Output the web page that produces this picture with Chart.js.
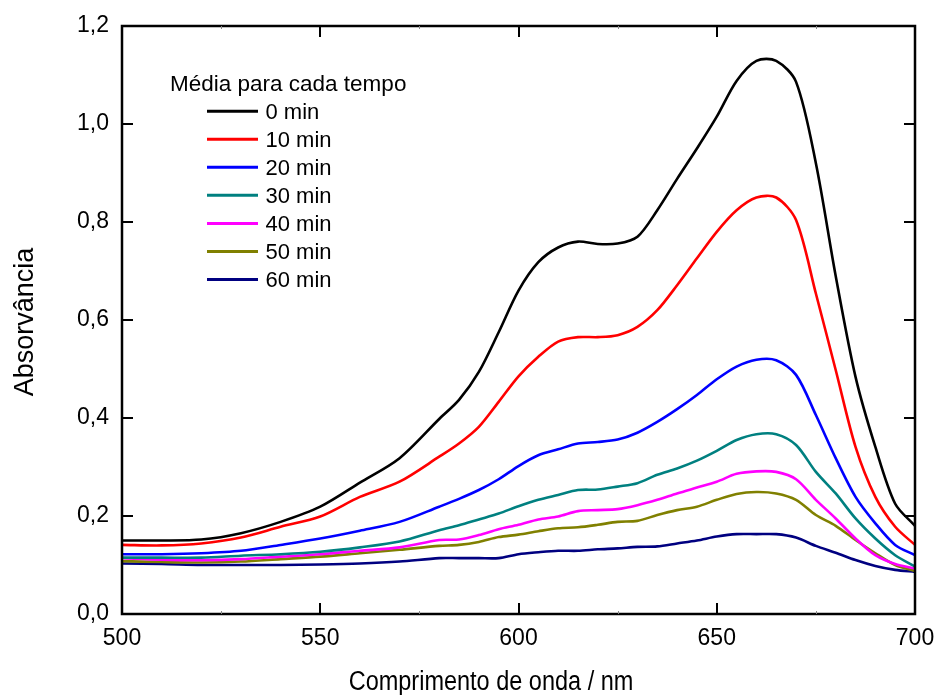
<!DOCTYPE html>
<html>
<head>
  <meta charset="utf-8">
  <title>Absorvância x comprimento de onda</title>
  <script src="https://cdn.jsdelivr.net/npm/chart.js@4.4.0/dist/chart.umd.min.js"></script>
  <style>
  body { margin:0; background:#fff; }
  #chart { display:block; }
  </style>
</head>
<body>
<canvas id="chart" width="938" height="695"></canvas>
<script>

// comprimento de onda (nm)
var wavelengths = [500,510,520,530,540,550,560,570,580,585,590,595,600,605,610,615,620,625,630,635,640,645,650,655,660,665,670,675,680,685,690,695,700];

var abs0  = [0.150,0.150,0.152,0.165,0.188,0.219,0.268,0.318,0.398,0.437,0.494,0.575,0.660,0.718,0.748,0.760,0.755,0.756,0.770,0.824,0.888,0.950,1.015,1.088,1.129,1.129,1.086,0.920,0.690,0.484,0.341,0.225,0.180];
var abs10 = [0.141,0.140,0.144,0.156,0.178,0.199,0.239,0.270,0.321,0.348,0.382,0.433,0.485,0.525,0.556,0.565,0.565,0.569,0.586,0.620,0.671,0.726,0.780,0.824,0.850,0.850,0.804,0.654,0.498,0.341,0.239,0.178,0.141];
var abs20 = [0.122,0.122,0.124,0.129,0.141,0.154,0.170,0.188,0.219,0.235,0.253,0.275,0.302,0.324,0.336,0.348,0.351,0.356,0.370,0.392,0.418,0.447,0.479,0.505,0.519,0.518,0.488,0.406,0.318,0.239,0.185,0.141,0.120];
var abs30 = [0.115,0.115,0.115,0.119,0.122,0.127,0.136,0.148,0.171,0.181,0.193,0.205,0.220,0.233,0.243,0.253,0.254,0.260,0.267,0.284,0.297,0.313,0.333,0.355,0.367,0.367,0.345,0.290,0.246,0.195,0.154,0.120,0.097];
var abs40 = [0.114,0.111,0.110,0.112,0.117,0.122,0.129,0.136,0.151,0.152,0.161,0.173,0.182,0.193,0.199,0.210,0.212,0.214,0.222,0.233,0.246,0.258,0.270,0.286,0.291,0.290,0.275,0.233,0.195,0.154,0.120,0.102,0.093];
var abs50 = [0.108,0.106,0.105,0.107,0.112,0.117,0.124,0.131,0.139,0.141,0.147,0.157,0.162,0.169,0.175,0.177,0.182,0.188,0.190,0.202,0.212,0.219,0.233,0.245,0.249,0.246,0.233,0.202,0.180,0.151,0.124,0.100,0.088];
var abs60 = [0.103,0.102,0.100,0.100,0.100,0.101,0.103,0.107,0.114,0.114,0.114,0.114,0.122,0.126,0.129,0.129,0.132,0.134,0.137,0.138,0.144,0.150,0.158,0.163,0.163,0.163,0.156,0.139,0.125,0.110,0.098,0.090,0.086];

var labels = ["0 min","10 min","20 min","30 min","40 min","50 min","60 min"];
var colors = ["#000000","#ff0000","#0000ff","#008080","#ff00ff","#808000","#000080"];
var series = [abs0,abs10,abs20,abs30,abs40,abs50,abs60];

var FONT = "'Liberation Sans', Arial, sans-serif";

function pts(arr){
  var out=[];
  for(var i=0;i<arr.length;i++){ out.push({x:wavelengths[i], y:arr[i]}); }
  return out;
}

var datasets=[];
for(var s=0;s<series.length;s++){
  datasets.push({
    label: labels[s],
    data: pts(series[s]),
    borderColor: colors[s],
    borderWidth: 2.6,
    pointRadius: 0,
    fill: false,
    tension: 0.3
  });
}

// moldura, ticks para dentro, titulos e legenda
var framePlugin = {
  id: 'frame',
  afterDraw: function(chart){
    var c = chart.ctx, a = chart.chartArea;
    var xs = chart.scales.x, ys = chart.scales.y;
    c.save();
    c.strokeStyle = '#000';
    c.lineWidth = 2.5;
    c.strokeRect(a.left, a.top, a.right-a.left, a.bottom-a.top);
    c.lineWidth = 2;
    c.beginPath();
    for(var v=500; v<=700; v+=50){
      var px = Math.round(xs.getPixelForValue(v));
      c.moveTo(px, a.bottom); c.lineTo(px, a.bottom-11);
      c.moveTo(px, a.top); c.lineTo(px, a.top+11);
    }
    for(var k=0; k<=12; k+=2){
      var py = Math.round(ys.getPixelForValue(k/10));
      c.moveTo(a.left, py); c.lineTo(a.left+11, py);
      c.moveTo(a.right, py); c.lineTo(a.right-11, py);
    }
    c.stroke();
    // ticks menores, quase invisiveis
    c.strokeStyle = '#888';
    c.lineWidth = 1;
    c.beginPath();
    for(var m=525; m<700; m+=50){
      var mx = Math.round(xs.getPixelForValue(m)) + 0.5;
      c.moveTo(mx, a.bottom); c.lineTo(mx, a.bottom-3);
      c.moveTo(mx, a.top); c.lineTo(mx, a.top+3);
    }
    c.stroke();

    // titulos dos eixos
    c.fillStyle = '#000';
    c.textAlign = 'center';
    c.textBaseline = 'alphabetic';
    c.save();
    c.translate(491, 690);
    c.scale(0.87, 1);
    c.font = '27px ' + FONT;
    c.fillText('Comprimento de onda / nm', 0, 0);
    c.restore();
    c.save();
    c.translate(33, 322);
    c.rotate(-Math.PI/2);
    c.font = '27px ' + FONT;
    c.fillText('Absorvância', 0, 0);
    c.restore();

    // legenda
    c.textAlign = 'left';
    c.font = '22.5px ' + FONT;
    c.fillText('Média para cada tempo', 170, 90.5);
    c.font = '22px ' + FONT;
    for(var i=0;i<labels.length;i++){
      var y = 111.2 + i*28.05;
      c.strokeStyle = colors[i];
      c.lineWidth = 3;
      c.beginPath(); c.moveTo(207, y); c.lineTo(258, y); c.stroke();
      c.fillText(labels[i], 265.5, y+7.5);
    }
    c.restore();
  }
};

var ctx = document.getElementById('chart').getContext('2d');
var chart = new Chart(ctx, {
  type: 'line',
  data: { datasets: datasets },
  options: {
    responsive: false,
    animation: false,
    layout: { padding: { left: 0, top: 26, right: 23, bottom: 0 } },
    plugins: { legend: {display:false}, tooltip: {enabled:false} },
    scales: {
      x: {
        type: 'linear', min: 500, max: 700,
        grid: { display:false, drawTicks:false },
        border: { display:false },
        ticks: { stepSize: 50, padding: 11, color:'#000', font:{family:FONT, size:23} },
        afterFit: function(scale){ scale.height = 81; scale.paddingLeft = 0; scale.paddingRight = 0; }
      },
      y: {
        min: 0, max: 1.2,
        grid: { display:false, drawTicks:false },
        border: { display:false },
        ticks: { stepSize: 0.2, padding: 13, color:'#000', font:{family:FONT, size:23},
          callback: function(v){ return v.toFixed(1).replace('.', ','); } },
        afterFit: function(scale){ scale.width = 122; scale.paddingTop = 0; scale.paddingBottom = 0; }
      }
    }
  },
  plugins: [framePlugin]
});

</script>
</body>
</html>
